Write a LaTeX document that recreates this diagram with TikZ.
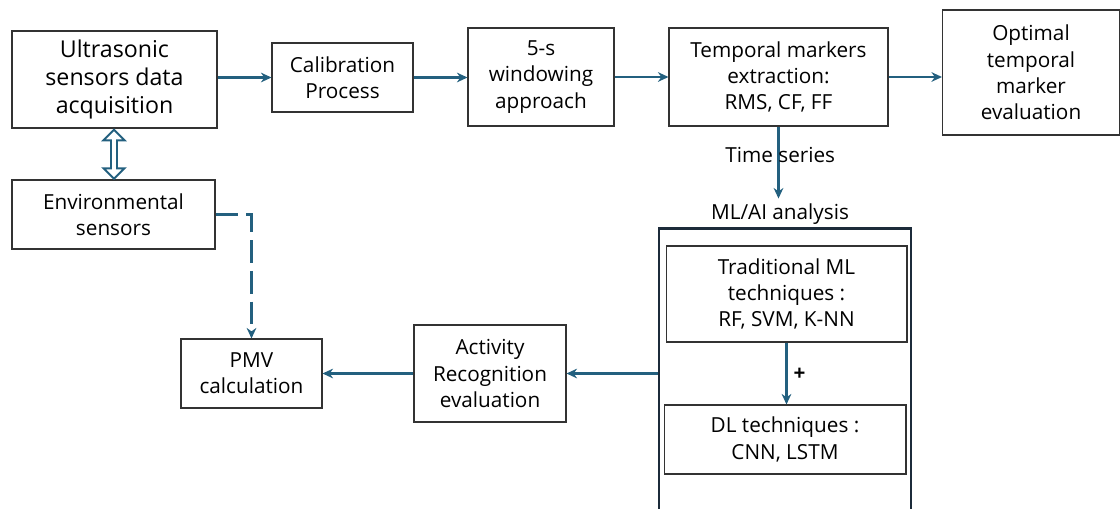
\documentclass[tikz,border=0pt]{standalone}
\usepackage{fontspec}
\setmainfont{Open Sans}
\usetikzlibrary{arrows.meta,shapes.arrows,calc}

\definecolor{flowblue}{HTML}{23607F}
\definecolor{framenavy}{HTML}{1C2B3A}

\tikzset{
  txt/.style={font=\fontsize{11.8}{15}\selectfont},
  block/.style={draw=black!80, line width=0.6pt, fill=white, align=center, inner sep=2pt, txt},
  flow/.style={draw=flowblue, line width=1.4pt, -{Stealth[length=6pt,width=5.5pt]}},
}

\begin{document}
\begin{tikzpicture}[x=0.02cm,y=-0.02cm]
      \useasboundingbox (0,0) rectangle (1120,508);
      % top row
      \node[block, line width=1.4pt, minimum width=4.1cm, minimum height=1.94cm,
        font=\fontsize{13.2}{16.2}\selectfont] (us) at (114.5,79.5) {Ultrasonic\\sensors data\\acquisition};
      \node[block, minimum width=2.82cm, minimum height=1.38cm] (cal) at (342.5,77.5) {Calibration\\Process};
      \node[block, minimum width=2.92cm, minimum height=1.96cm] (win) at (541,77) {5-s\\windowing\\approach};
      \node[block, minimum width=4.38cm, minimum height=1.96cm] (tmp) at (778.5,77) {Temporal markers\\extraction:\\RMS, CF, FF};
      \node[block, minimum width=3.54cm, minimum height=2.5cm] (opt) at (1031,72.5) {Optimal\\temporal\\marker\\evaluation};
      % left side
      \node[block, minimum width=4.06cm, minimum height=1.38cm] (env) at (113.5,214.5) {Environmental\\sensors};
      \node[block, minimum width=2.82cm, minimum height=1.38cm] (pmv) at (251.5,373.5) {PMV\\calculation};
      \node[block, minimum width=3.04cm, minimum height=1.94cm] (act) at (490,373.5) {Activity\\Recognition\\evaluation};
      % ML/AI frame, runs off the bottom
      \node[draw=framenavy, line width=1.5pt, minimum width=5.04cm, minimum height=6.2cm, anchor=north] (ml) at (785,227) {};
      \node[txt, anchor=south, inner sep=1pt] (mllabel) at (780,227) {ML/AI analysis};
      \node[block, minimum width=4.82cm, minimum height=1.92cm] (trad) at (786.5,294) {Traditional ML\\techniques :\\RF, SVM, K-NN};
      \node[block, minimum width=4.84cm, minimum height=1.38cm] (dl) at (785,439.5) {DL techniques :\\CNN, LSTM};

      \draw[flow] (us.east |- cal) -- (cal.west);
      \draw[flow] (cal.east) -- (cal.east -| win.west);
      \draw[flow] (win.east) -- (win.east -| tmp.west);
      \draw[flow] (tmp.east) -- (tmp.east -| opt.west);
      \draw[flow, shorten >=2pt] (tmp.south) -- node[txt, inner sep=0pt, pos=0.38, xshift=1pt] {Time series} (tmp.south |- mllabel.north);
      \draw[flow] (trad.south) -- node[right, txt, font=\fontsize{11.8}{15}\selectfont\bfseries, pos=0.52] {+} (trad.south |- dl.north);
      \draw[flow] (ml.west |- act.east) -- (act.east);
      \draw[flow] (act) -- (pmv);
      \draw[flow, dash pattern=on 13pt off 4.5pt] (env.east) -| (pmv.north);
      % two-way link
      \node[double arrow, draw=flowblue, line width=1.1pt, rotate=90, minimum height=0.98cm,
        minimum width=0.42cm, double arrow head extend=0.1cm, inner sep=0.6pt] (link) at ($(us.south)!0.5!(env.north)$) {};
    \end{tikzpicture}
\end{document}
